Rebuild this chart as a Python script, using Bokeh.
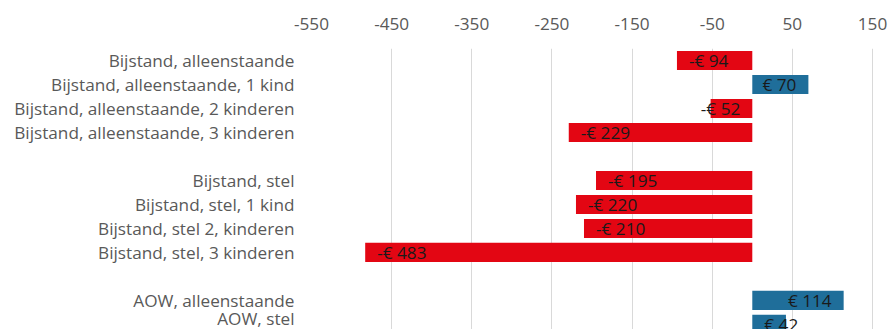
from bokeh.plotting import figure
from bokeh.models import ColumnDataSource, Range1d, FixedTicker
from bokeh.core.properties import value
from bokeh.embed import file_html
from bokeh.resources import INLINE

categories = [
    "Bijstand, alleenstaande",
    "Bijstand, alleenstaande, 1 kind",
    "Bijstand, alleenstaande, 2 kinderen",
    "Bijstand, alleenstaande, 3 kinderen",
    "",
    "Bijstand, stel",
    "Bijstand, stel, 1 kind",
    "Bijstand, stel 2, kinderen",
    "Bijstand, stel, 3 kinderen",
    "",
    "AOW, alleenstaande",
    "AOW, stel",
]
values = [-94, 70, -52, -229, None, -195, -220, -210, -483, None, 114, 42]
x_ticks = [-550, -450, -350, -250, -150, -50, 50, 150]

RED = "#E30613"
BLUE = "#1F6E9A"
FONT = "Open Sans"
FS = "17.2px"

idx = [i for i, v in enumerate(values) if v is not None]
vals = [values[i] for i in idx]
labels = [("-€ %d" % -v) if v < 0 else ("€ %d" % v) for v in vals]
colors = [RED if v < 0 else BLUE for v in vals]

px_per_unit = 580 / (173.7 + 550)
pad = 12
fits = [abs(v) * px_per_unit >= len(t) * 7.5 + 2 * pad for v, t in zip(vals, labels)]
lx, lalign, loff = [], [], []
for v, f in zip(vals, fits):
    if v < 0:
        if f:
            lx.append(v); lalign.append("left"); loff.append(pad)
        else:
            lx.append(0); lalign.append("right"); loff.append(-pad)
    else:
        if f:
            lx.append(v); lalign.append("right"); loff.append(-pad)
        else:
            lx.append(0); lalign.append("left"); loff.append(pad)

src = ColumnDataSource(dict(y=idx, v=vals, c=colors, t=labels, lx=lx, la=lalign, lo=loff))

p = figure(width=891, height=329, output_backend="svg", toolbar_location=None,
           x_range=Range1d(-550, 173.7), y_range=Range1d(11.21, -0.5),
           x_axis_location="above",
           min_border_left=311, min_border_top=48, min_border_right=0, min_border_bottom=0)
p.outline_line_color = None
p.background_fill_color = "white"
p.border_fill_color = "white"

p.hbar(y="y", left=0, right="v", height=0.8, color="c", source=src, line_color=None)
p.text(x="lx", y="y", text="t", text_align="la", x_offset="lo", text_baseline="middle",
       text_font=value(FONT), text_font_size=FS, text_color="#1a1a1a", source=src)

p.xaxis.ticker = FixedTicker(ticks=x_ticks)
p.xaxis.major_label_overrides = {t: str(t) for t in x_ticks}
p.xaxis.axis_line_color = None
p.xaxis.major_tick_line_color = None
p.xaxis.minor_tick_line_color = None
p.xaxis.major_tick_out = 0
p.xaxis.major_label_standoff = 19
p.xaxis.major_label_text_font = FONT
p.xaxis.major_label_text_font_size = FS
p.xaxis.major_label_text_color = "#595959"

p.yaxis.ticker = FixedTicker(ticks=idx)
p.yaxis.major_label_overrides = {i: categories[i] for i in idx}
p.yaxis.axis_line_color = None
p.yaxis.major_tick_line_color = None
p.yaxis.minor_tick_line_color = None
p.yaxis.major_tick_out = 0
p.yaxis.major_label_standoff = 17
p.yaxis.major_label_text_font = FONT
p.yaxis.major_label_text_font_size = FS
p.yaxis.major_label_text_color = "#595959"

p.xgrid.grid_line_color = "#d9d9d9"
p.ygrid.grid_line_color = None

open("out.html", "w").write(file_html(p, INLINE))
